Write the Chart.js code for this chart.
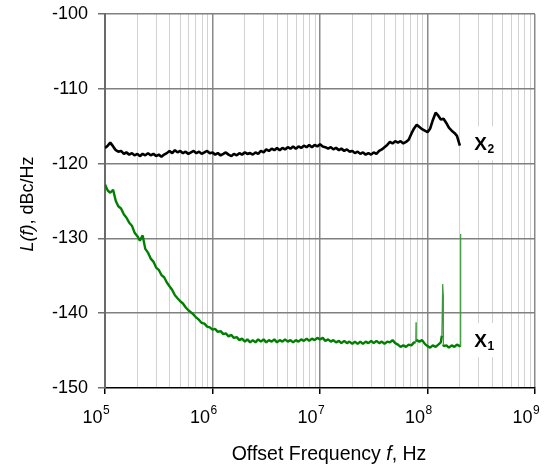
<!DOCTYPE html>
<html>
<head>
<meta charset="utf-8">
<script src="https://cdn.jsdelivr.net/npm/chart.js@4.4.1/dist/chart.umd.min.js"></script>
<style>
  html, body { margin: 0; padding: 0; background: #fff; overflow: hidden; }
  #chart { display: block; }
</style>
</head>
<body>
<canvas id="chart" width="552" height="468"></canvas>
<script>
// offset frequency grid, Hz (about 40 points per decade)
const offsetHz = [
  1.00e5,1.06e5,1.12e5,1.19e5,1.26e5,1.33e5,1.41e5,1.50e5,1.58e5,1.68e5,1.78e5,1.88e5,2.00e5,2.11e5,2.24e5,2.37e5,2.51e5,2.66e5,2.82e5,2.99e5,
  3.16e5,3.35e5,3.55e5,3.76e5,3.98e5,4.22e5,4.47e5,4.73e5,5.01e5,5.31e5,5.62e5,5.96e5,6.31e5,6.68e5,7.08e5,7.50e5,7.94e5,8.41e5,8.91e5,9.44e5,
  1.00e6,1.06e6,1.12e6,1.19e6,1.26e6,1.33e6,1.41e6,1.50e6,1.58e6,1.68e6,1.78e6,1.88e6,2.00e6,2.11e6,2.24e6,2.37e6,2.51e6,2.66e6,2.82e6,2.99e6,
  3.16e6,3.35e6,3.55e6,3.76e6,3.98e6,4.22e6,4.47e6,4.73e6,5.01e6,5.31e6,5.62e6,5.96e6,6.31e6,6.68e6,7.08e6,7.50e6,7.94e6,8.41e6,8.91e6,9.44e6,
  1.00e7,1.06e7,1.12e7,1.19e7,1.26e7,1.33e7,1.41e7,1.50e7,1.58e7,1.68e7,1.78e7,1.88e7,2.00e7,2.11e7,2.24e7,2.37e7,2.51e7,2.66e7,2.82e7,2.99e7,
  3.16e7,3.35e7,3.55e7,3.76e7,3.98e7,4.22e7,4.47e7,4.73e7,5.01e7,5.31e7,5.62e7,5.96e7,6.31e7,6.68e7,7.08e7,7.50e7,7.94e7,8.41e7,8.91e7,9.44e7,
  1.00e8,1.06e8,1.12e8,1.19e8,1.26e8,1.33e8,1.41e8,1.50e8,1.58e8,1.68e8,1.78e8,1.88e8,2.00e8
];

// X2 trace, dBc/Hz
const x2Dbc = [
  -117.9,-117.6,-117.2,-117.7,-118.2,-118.4,-118.3,-118.7,-118.5,-118.8,-118.6,-118.9,-118.7,-119.0,-118.7,-118.9,-118.6,-118.9,-118.7,-119.0,
  -118.8,-119.1,-118.8,-118.6,-118.3,-118.6,-118.2,-118.5,-118.3,-118.6,-118.4,-118.7,-118.5,-118.3,-118.6,-118.4,-118.7,-118.5,-118.3,-118.6,
  -118.5,-118.8,-118.6,-118.9,-118.7,-118.5,-118.8,-119.0,-118.7,-118.9,-118.6,-118.8,-118.5,-118.7,-118.6,-118.8,-118.5,-118.7,-118.3,-118.5,
  -118.1,-118.3,-118.0,-118.2,-117.9,-118.2,-117.9,-118.1,-117.8,-118.0,-117.7,-118.0,-117.7,-117.9,-117.6,-117.8,-117.5,-117.8,-117.5,-117.7,
  -117.4,-117.7,-117.8,-118.0,-117.8,-118.1,-117.9,-118.2,-118.0,-118.3,-118.1,-118.4,-118.3,-118.6,-118.4,-118.7,-118.5,-118.8,-118.6,-118.8,
  -118.5,-118.7,-118.3,-118.1,-117.8,-117.5,-117.1,-117.3,-117.0,-117.2,-117.0,-117.3,-117.1,-116.8,-116.0,-115.3,-114.8,-115.1,-115.4,-115.6,
  -115.8,-115.3,-114.2,-113.2,-113.6,-114.1,-114.0,-114.6,-115.2,-115.6,-115.9,-116.3,-117.6
];

// X1 trace, dBc/Hz
const x1Dbc = [
  -122.8,-123.6,-123.9,-123.5,-125.0,-125.7,-126.0,-126.8,-127.2,-127.9,-128.3,-129.2,-129.7,-130.3,-129.6,-131.4,-131.9,-132.7,-133.1,-133.9,
  -134.2,-134.9,-135.2,-135.9,-136.4,-136.9,-137.6,-138.0,-138.4,-138.7,-139.2,-139.6,-139.9,-140.2,-140.6,-140.9,-141.3,-141.4,-141.8,-141.9,
  -142.2,-142.1,-142.5,-142.4,-142.8,-142.7,-143.1,-142.9,-143.3,-143.2,-143.6,-143.4,-143.8,-143.5,-143.9,-143.6,-143.9,-143.5,-143.8,-143.5,
  -143.9,-143.6,-143.8,-143.5,-143.9,-143.6,-143.8,-143.5,-143.8,-143.6,-143.9,-143.6,-143.8,-143.5,-143.7,-143.4,-143.7,-143.4,-143.6,-143.3,
  -143.5,-143.3,-143.7,-143.5,-143.8,-143.6,-143.9,-143.7,-144.0,-143.7,-144.0,-143.8,-144.1,-143.8,-144.1,-143.8,-144.1,-143.8,-144.0,-143.7,
  -144.0,-143.7,-144.0,-143.8,-144.1,-143.8,-143.9,-143.6,-144.0,-144.2,-144.5,-144.3,-144.5,-144.2,-144.3,-143.9,-143.6,-143.8,-143.6,-144.1,
  -144.4,-144.6,-144.3,-144.5,-144.2,-143.9,-144.4,-144.3,-144.6,-144.3,-144.5,-144.2,-144.4
];

// narrow spurs on X1
const x1SpurHz  = [7.78e7, 7.82e7, 7.86e7, 1.36e8, 1.385e8, 1.40e8, 1.405e8, 2.02e8, 2.03e8, 2.04e8];
const x1SpurDbc = [-143.9, -141.2, -143.7, -143.0, -136.1, -137.5, -144.2, -144.3, -129.4, -144.4];

const yTicks = [-150, -140, -130, -120, -110, -100];
const decades = [5, 6, 7, 8, 9];
const minorSteps = [2, 3, 4, 5, 6, 7, 8, 9];

const traceSub = ['2', '1'];
const labelHz = [2.72e8, 2.72e8];
const labelDbc = [-117.3, -143.6];

const FONT = '"Liberation Sans", Arial, sans-serif';

const x2Points = offsetHz.map((f, i) => ({ x: f, y: x2Dbc[i] }));
const x1Points = offsetHz.map((f, i) => ({ x: f, y: x1Dbc[i] }))
  .concat(x1SpurHz.map((f, i) => ({ x: f, y: x1SpurDbc[i] })))
  .sort((a, b) => a.x - b.x);

const xTickHz = [];
decades.forEach(e => {
  xTickHz.push(Math.pow(10, e));
  if (e < 9) minorSteps.forEach(m => xTickHz.push(m * Math.pow(10, e)));
});
const isDecade = v => Math.abs(Math.log10(v) - Math.round(Math.log10(v))) < 1e-9;

// spur segments are thin lines in the original
const isSpur = s => s.p0.parsed.x > 7e7 && Math.abs(s.p1.parsed.y - s.p0.parsed.y) > 1;

function drawParts(ctx, parts, x, y) {
  let total = 0;
  parts.forEach(p => {
    ctx.font = (p[1] ? 'italic ' : '') + p[2] + 'px ' + FONT;
    total += ctx.measureText(p[0]).width;
  });
  let cx = x - total / 2;
  parts.forEach(p => {
    ctx.font = (p[1] ? 'italic ' : '') + p[2] + 'px ' + FONT;
    ctx.fillText(p[0], cx, y);
    cx += ctx.measureText(p[0]).width;
  });
}

const overlay = {
  id: 'overlay',
  afterDraw(chart) {
    const { ctx, chartArea, scales: { x, y } } = chart;
    ctx.save();
    ctx.fillStyle = '#000';
    ctx.textBaseline = 'alphabetic';

    // trace labels on white boxes
    traceSub.forEach((sub, i) => {
      const px = x.getPixelForValue(labelHz[i]);
      const py = y.getPixelForValue(labelDbc[i]);
      ctx.fillStyle = '#fff';
      ctx.fillRect(px - 6, py - 17, 32, 34);
      ctx.fillStyle = '#000';
      ctx.textAlign = 'left';
      ctx.font = 'bold 19px ' + FONT;
      ctx.fillText('X', px, py + 6.5);
      const w = ctx.measureText('X').width;
      ctx.font = 'bold 12px ' + FONT;
      ctx.fillText(sub, px + w + 0.5, py + 10);
    });

    // x tick labels 10^n
    decades.forEach(e => {
      const tx = x.getPixelForValue(Math.pow(10, e));
      ctx.textAlign = 'right';
      ctx.font = '18px ' + FONT;
      ctx.fillText('10', tx - 2.5, chartArea.bottom + 35);
      ctx.textAlign = 'left';
      ctx.font = '12px ' + FONT;
      ctx.fillText(String(e), tx - 2, chartArea.bottom + 26);
    });

    // x title
    ctx.textAlign = 'left';
    drawParts(ctx, [['Offset Frequency ', false, 19.5], ['f', true, 19.5], [', Hz', false, 19.5]],
      (chartArea.left + chartArea.right) / 2 + 9, chartArea.bottom + 72);

    // y title
    ctx.translate(33, (chartArea.top + chartArea.bottom) / 2 + 3);
    ctx.rotate(-Math.PI / 2);
    drawParts(ctx, [['L(f)', true, 18], [', dBc/Hz', false, 18]], 0, 0);
    ctx.restore();
  }
};

new Chart(document.getElementById('chart'), {
  type: 'line',
  data: {
    datasets: [
      {
        label: 'X1', data: x1Points, borderColor: '#008000', borderWidth: 2.4,
        segment: {
          borderWidth: s => (isSpur(s) ? 1.2 : undefined),
          borderColor: s => (isSpur(s) ? '#3c9a3c' : undefined)
        }
      },
      { label: 'X2', data: x2Points, borderColor: '#000000', borderWidth: 2.6 }
    ]
  },
  options: {
    responsive: false,
    animation: false,
    events: [],
    layout: { padding: { left: 0, top: 14, right: 17, bottom: 0 } },
    elements: { point: { radius: 0 }, line: { tension: 0, borderJoinStyle: 'bevel' } },
    plugins: { legend: { display: false }, tooltip: { enabled: false } },
    scales: {
      x: {
        type: 'logarithmic',
        min: 1e5,
        max: 1e9,
        afterBuildTicks: scale => { scale.ticks = xTickHz.map(v => ({ value: v })); },
        afterFit: scale => { scale.height = 80; scale.paddingLeft = 0; scale.paddingRight = 0; },
        ticks: { display: false },
        grid: {
          color: c => {
            const v = c.tick.value;
            if (v === 1e5) return 'rgba(0,0,0,0)';
            return isDecade(v) ? '#8a8a8a' : '#d2d2d2';
          },
          lineWidth: c => (isDecade(c.tick.value) ? 1.5 : 1),
          tickColor: c => (isDecade(c.tick.value) ? '#000' : 'rgba(0,0,0,0)'),
          tickLength: 6
        },
        border: { color: '#000', width: 1.5 }
      },
      y: {
        min: -150,
        max: -100,
        afterBuildTicks: scale => { scale.ticks = yTicks.map(v => ({ value: v })); },
        afterFit: scale => { scale.width = 105; scale.paddingTop = 0; scale.paddingBottom = 0; },
        ticks: {
          color: '#000',
          font: { family: FONT, size: 18 },
          padding: 10
        },
        grid: {
          color: c => (c.tick.value === -150 ? 'rgba(0,0,0,0)' : '#808080'),
          lineWidth: 1.5,
          tickColor: '#707070',
          tickLength: 7
        },
        border: { color: '#6a6a6a', width: 2 }
      }
    }
  },
  plugins: [overlay]
});
</script>
</body>
</html>
